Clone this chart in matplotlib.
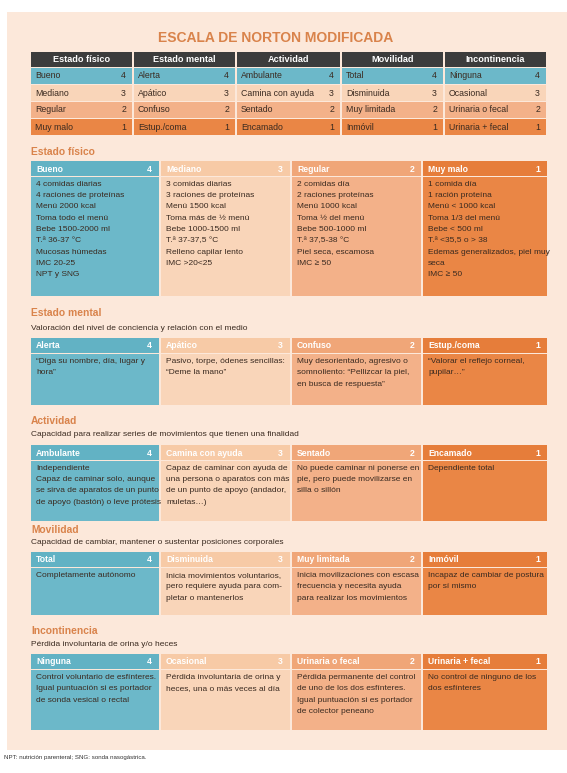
import matplotlib
matplotlib.use("Agg")
import matplotlib.pyplot as plt
from matplotlib.patches import Rectangle

plt.rcParams['font.family'] = ['Liberation Sans Narrow', 'Liberation Sans', 'DejaVu Sans']

W, H = 567, 773
TITLE = "ESCALA DE NORTON MODIFICADA"
CATEGORIES = ["Estado físico", "Estado mental", "Actividad", "Movilidad", "Incontinencia"]
SCORES = [4, 3, 2, 1]
LEVELS = [
    ["Bueno", "Mediano", "Regular", "Muy malo"],
    ["Alerta", "Apático", "Confuso", "Estup./coma"],
    ["Ambulante", "Camina con ayuda", "Sentado", "Encamado"],
    ["Total", "Disminuida", "Muy limitada", "Inmóvil"],
    ["Ninguna", "Ocasional", "Urinaria o fecal", "Urinaria + fecal"],
]
SUBTITLES = [
    None,
    "Valoración del nivel de conciencia y relación con el medio",
    "Capacidad para realizar series de movimientos que tienen una finalidad",
    "Capacidad de cambiar, mantener o sustentar posiciones corporales",
    "Pérdida involuntaria de orina y/o heces",
]
DESCRIPTIONS = [
    ["4 comidas diarias\n4 raciones de proteínas\nMenú 2000 kcal\nToma todo el menú\nBebe 1500-2000 ml\nT.ª 36-37 °C\nMucosas húmedas\nIMC 20-25\nNPT y SNG",
     "3 comidas diarias\n3 raciones de proteínas\nMenú 1500 kcal\nToma más de ½ menú\nBebe 1000-1500 ml\nT.ª 37-37,5 °C\nRelleno capilar lento\nIMC >20<25",
     "2 comidas día\n2 raciones proteínas\nMenú 1000 kcal\nToma ½ del menú\nBebe 500-1000 ml\nT.ª 37,5-38 °C\nPiel seca, escamosa\nIMC ≥ 50",
     "1 comida día\n1 ración proteína\nMenú < 1000 kcal\nToma 1/3 del menú\nBebe < 500 ml\nT.ª <35,5 o > 38\nEdemas generalizados, piel muy\nseca\nIMC ≥ 50"],
    ["“Diga su nombre, día, lugar y\nhora”",
     "Pasivo, torpe, ódenes sencillas:\n“Deme la mano”",
     "Muy desorientado, agresivo o\nsomnoliento: “Pellizcar la piel,\nen busca de respuesta”",
     "“Valorar el reflejo corneal,\npupilar…”"],
    ["Independiente\nCapaz de caminar solo, aunque\nse sirva de aparatos de un punto\nde apoyo (bastón) o leve prótesis",
     "Capaz de caminar con ayuda de\nuna persona o aparatos con más\nde un punto de apoyo (andador,\nmuletas…)",
     "No puede caminar ni ponerse en\npie, pero puede movilizarse en\nsilla o sillón",
     "Dependiente total"],
    ["Completamente autónomo",
     "Inicia movimientos voluntarios,\npero requiere ayuda para com-\npletar o mantenerlos",
     "Inicia movilizaciones con escasa\nfrecuencia y necesita ayuda\npara realizar los movimientos",
     "Incapaz de cambiar de postura\npor sí mismo"],
    ["Control voluntario de esfínteres.\nIgual puntuación si es portador\nde sonda vesical o rectal",
     "Pérdida involuntaria de orina y\nheces, una o más veces al día",
     "Pérdida permanente del control\nde uno de los dos esfínteres.\nIgual puntuación si es portador\nde colector peneano",
     "No control de ninguno de los\ndos esfínteres"],
]
FOOTNOTE = "NPT: nutrición parenteral; SNG: sonda nasogástrica."

# layout (pixels)
ROW_COLORS = ["#6cb8c9", "#f9d5b9", "#f3b189", "#ea8645"]
HEAD_COLORS = ["#62b2c4", "#f7caa6", "#f0a678", "#e67d3a"]
TXT = "#3a2a20"
ACC = "#d9834b"
TOP_COLS = [31, 134, 237, 342, 445, 548]
DET_COLS = [31, 161, 292, 423, 549]
SECTIONS = [  # label y, subtitle y, header top, body top, body bottom
    (152, None, 161, 177, 296),
    (313, 328, 338, 354, 405),
    (421, 435, 445, 461, 521),
    (530, 543, 552, 568, 615),
    (631, 645, 654, 670, 730),
]

fig = plt.figure(figsize=(W / 100, H / 100), dpi=100)
ax = fig.add_axes([0, 0, 1, 1])
ax.set_xlim(0, W); ax.set_ylim(H, 0); ax.axis("off")
fs = 6.0

ax.add_patch(Rectangle((7, 12), W - 7, 738, color="#fce8da", lw=0))
ax.text(W / 2 - 8, 38, TITLE, ha="center", va="center", color=ACC,
        fontsize=10, fontweight="bold")

# summary table
for c, cat in enumerate(CATEGORIES):
    x0, x1 = TOP_COLS[c], TOP_COLS[c + 1] - 2
    ax.add_patch(Rectangle((x0, 52), x1 - x0, 15, color="#3c3c3c", lw=0))
    ax.text((x0 + x1) / 2, 59.5, cat, ha="center", va="center", color="white",
            fontsize=fs + 0.6, fontweight="bold")
    for r, s in enumerate(SCORES):
        y0 = 68 + r * 17
        ax.add_patch(Rectangle((x0, y0), x1 - x0, 16, color=ROW_COLORS[r], lw=0))
        ax.text(x0 + 4, y0 + 8, LEVELS[c][r], va="center", color=TXT, fontsize=fs + 0.3)
        ax.text(x1 - 6, y0 + 8, str(s), va="center", ha="right", color=TXT, fontsize=fs + 0.3)

# detail sections
for c, (ly, sy, ht, bt, bb) in enumerate(SECTIONS):
    ax.text(31, ly, CATEGORIES[c], va="center", color=ACC, fontsize=fs + 1.4,
            fontweight="bold")
    if sy is not None and SUBTITLES[c]:
        ax.text(31, sy, SUBTITLES[c], va="center", color=TXT, fontsize=fs)
    for r, s in enumerate(SCORES):
        x0, x1 = DET_COLS[r], DET_COLS[r + 1] - 2
        ax.add_patch(Rectangle((x0, ht), x1 - x0, bt - ht - 1, color=HEAD_COLORS[r], lw=0))
        ax.add_patch(Rectangle((x0, bt), x1 - x0, bb - bt, color=ROW_COLORS[r], lw=0))
        ax.text(x0 + 5, (ht + bt) / 2, LEVELS[c][r], va="center", color="white",
                fontsize=fs + 0.2, fontweight="bold")
        ax.text(x1 - 7, (ht + bt) / 2, str(s), va="center", ha="right", color="white",
                fontsize=fs + 0.2, fontweight="bold")
        ax.text(x0 + 5, bt + 4, DESCRIPTIONS[c][r], va="top", color=TXT,
                fontsize=fs, linespacing=1.85)

ax.text(4, 757, FOOTNOTE, va="center", color="#333333", fontsize=4.4)

fig.savefig("out.png", dpi=100)
